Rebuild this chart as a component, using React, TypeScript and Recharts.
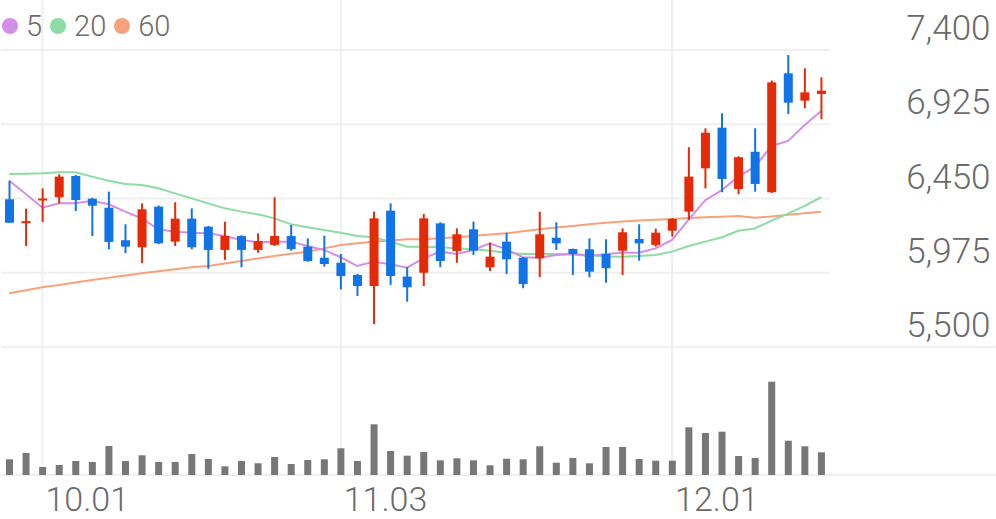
import {
  ComposedChart,
  Bar,
  Line,
  XAxis,
  YAxis,
  CartesianGrid,
} from 'recharts';

// trading days, Sep 29 - Dec 12
const dates = [
  '09.29', '09.30', '10.01', '10.02', '10.10', '10.13', '10.14', '10.15', '10.16', '10.17',
  '10.20', '10.21', '10.22', '10.23', '10.24', '10.27', '10.28', '10.29', '10.30', '10.31',
  '11.03', '11.04', '11.05', '11.06', '11.07', '11.10', '11.11', '11.12', '11.13', '11.14',
  '11.17', '11.18', '11.19', '11.20', '11.21', '11.24', '11.25', '11.26', '11.27', '11.28',
  '12.01', '12.02', '12.03', '12.04', '12.05', '12.08', '12.09', '12.10', '12.11', '12.12',
];

const opens = [
  6445, 6295, 6440, 6458, 6594, 6449, 6391, 6183, 6138, 6398,
  6174, 6321, 6270, 6121, 6210, 6121, 6153, 6210, 6142, 6071,
  6039, 5961, 5890, 6372, 5950, 5975, 6291, 6114, 6253, 6010,
  6174, 6071, 6067, 6199, 6127, 6125, 6095, 6116, 6191, 6153,
  6244, 6366, 6643, 6903, 6511, 6749, 6490, 7251, 7076, 7119,
];
const highs = [
  6564, 6385, 6515, 6605, 6600, 6455, 6494, 6285, 6419, 6405,
  6426, 6387, 6275, 6302, 6215, 6227, 6458, 6281, 6195, 6212,
  6095, 5968, 6366, 6419, 6010, 6351, 6298, 6259, 6302, 6167,
  6231, 6075, 6366, 6298, 6130, 6195, 6189, 6259, 6285, 6257,
  6325, 6778, 6899, 6995, 6720, 6899, 7205, 7368, 7283, 7225,
];
const lows = [
  6295, 6146, 6300, 6419, 6370, 6210, 6125, 6100, 6036, 6158,
  6146, 6125, 6000, 6057, 6010, 6103, 6146, 6116, 6045, 6014,
  5869, 5826, 5647, 5897, 5790, 5890, 6010, 6039, 6089, 5986,
  5967, 5876, 5946, 6121, 5961, 5946, 5911, 5961, 6052, 6142,
  6206, 6313, 6515, 6490, 6477, 6494, 6485, 6991, 7027, 6957,
];
const closes = [
  6295, 6305, 6450, 6590, 6440, 6404, 6172, 6142, 6381, 6163,
  6321, 6138, 6121, 6210, 6121, 6178, 6210, 6127, 6050, 6031,
  5954, 5890, 6323, 5954, 5882, 6323, 6050, 6221, 6116, 6078,
  6061, 5903, 6221, 6163, 6095, 5982, 6004, 6234, 6163, 6231,
  6319, 6590, 6871, 6575, 6714, 6543, 7193, 7063, 7129, 7140,
];
const volumes = [
  157000, 220000, 80000, 100000, 140000, 130000, 290000, 140000, 197000, 130000,
  130000, 210000, 160000, 87000, 140000, 117000, 180000, 110000, 150000, 157000,
  267000, 140000, 507000, 240000, 193000, 230000, 147000, 167000, 147000, 97000,
  163000, 157000, 287000, 123000, 170000, 117000, 280000, 280000, 160000, 143000,
  143000, 477000, 420000, 433000, 190000, 170000, 933000, 343000, 287000, 227000,
];
const ma5 = [
  6564, 6479, 6391, 6419, 6419, 6436, 6413, 6366, 6323, 6253,
  6238, 6231, 6227, 6210, 6185, 6170, 6174, 6174, 6146, 6121,
  6074, 6018, 6046, 6029, 6007, 6067, 6110, 6095, 6121, 6163,
  6125, 6074, 6071, 6089, 6093, 6082, 6095, 6103, 6103, 6131,
  6185, 6315, 6439, 6504, 6590, 6654, 6786, 6818, 6920, 7010,
];
const ma20 = [
  6607, 6609, 6611, 6618, 6618, 6590, 6564, 6543, 6536, 6515,
  6483, 6451, 6419, 6387, 6366, 6349, 6323, 6285, 6266, 6249,
  6231, 6210, 6202, 6174, 6142, 6142, 6138, 6131, 6125, 6116,
  6103, 6095, 6095, 6095, 6095, 6089, 6078, 6078, 6082, 6089,
  6110, 6146, 6174, 6202, 6244, 6258, 6309, 6353, 6403, 6458,
];
const ma60 = [
  5844, 5863, 5882, 5897, 5913, 5929, 5943, 5958, 5972, 5984,
  5997, 6010, 6018, 6034, 6050, 6066, 6082, 6096, 6110, 6131,
  6152, 6163, 6174, 6181, 6189, 6189, 6195, 6202, 6210, 6219,
  6227, 6240, 6253, 6264, 6274, 6285, 6295, 6303, 6309, 6314,
  6319, 6325, 6330, 6334, 6338, 6327, 6335, 6346, 6356, 6366,
];

const priceLabels = [5500, 5975, 6450, 6925, 7400];
const dateTicks = ['10.01', '11.03', '12.01'];

const PRICE_MIN = 4681;
const PRICE_MAX = 7720;
const VOL_MAX = 4750000;

const RED = '#e42a06';
const BLUE = '#1174e6';
const C5 = '#d58ee8';
const C20 = '#8cdca3';
const C60 = '#f7a27c';
const TEXT = '#6b6b6b';
const GRID = '#efefef';
const FONT = 'Roboto, sans-serif';

const data = dates.map((date, i) => ({
  date,
  open: opens[i],
  high: highs[i],
  low: lows[i],
  close: closes[i],
  volume: volumes[i],
  ma5: ma5[i],
  ma20: ma20[i],
  ma60: ma60[i],
}));

const Candle = (props: any) => {
  const { x, y, width, height, payload } = props;
  const { open, close, high, low } = payload;
  const top = Math.min(y, y + height);
  const h = Math.abs(height);
  const k = h / (high - low || 1);
  const yOf = (v: number) => top + (high - v) * k;
  const color = close >= open ? RED : BLUE;
  const bodyTop = yOf(Math.max(open, close));
  const bodyH = Math.max(2, yOf(Math.min(open, close)) - bodyTop);
  const cx = x + width / 2;
  return (
    <g>
      <line x1={cx} x2={cx} y1={top} y2={top + h} stroke={color} strokeWidth={2} />
      <rect x={x} y={bodyTop} width={width} height={bodyH} fill={color} />
    </g>
  );
};

const PriceTick = (props: any) => {
  const { x, y, payload } = props;
  const v = payload.value;
  const wide = v === PRICE_MIN || v === 5500;
  return (
    <g>
      {wide && <line x1={x - 4} x2={x + 170} y1={y} y2={y} stroke={GRID} strokeWidth={2} />}
      {priceLabels.includes(v) && (
        <text x={x + 161} y={y - 10} textAnchor="end" fontSize={35} fontWeight={300} fontFamily={FONT} fill={TEXT}>
          {v.toLocaleString('en-US')}
        </text>
      )}
    </g>
  );
};

const DateTick = (props: any) => {
  const { x, y, payload } = props;
  return (
    <text x={x + 3} y={y + 36} fontSize={34} fontWeight={300} fontFamily={FONT} fill={TEXT}>
      {payload.value}
    </text>
  );
};

const legendItems = [
  { name: '5', color: C5 },
  { name: '20', color: C20 },
  { name: '60', color: C60 },
];

export default function App() {
  return (
    <div style={{ position: 'absolute', left: 0, top: 0, width: 996, height: 519, background: '#fff' }}>
      <ComposedChart
        width={996}
        height={519}
        data={data}
        margin={{ top: 0, right: 0, bottom: 0, left: 1 }}
      >
        <CartesianGrid
          xAxisId="price"
          yAxisId="price"
          stroke={GRID}
          strokeWidth={2}
          syncWithTicks
        />
        <XAxis
          xAxisId="price"
          dataKey="date"
          ticks={dateTicks}
          interval={0}
          height={44}
          axisLine={false}
          tickLine={false}
          tickSize={0}
          tickMargin={0}
          tick={<DateTick />}
        />
        <XAxis xAxisId="vol" dataKey="date" hide />
        <YAxis
          yAxisId="price"
          orientation="right"
          width={166.5}
          domain={[PRICE_MIN, PRICE_MAX]}
          ticks={[PRICE_MIN, ...priceLabels]}
          interval={0}
          axisLine={false}
          tickLine={false}
          tickSize={0}
          tickMargin={0}
          tick={<PriceTick />}
        />
        <YAxis yAxisId="vol" domain={[0, VOL_MAX]} hide />
        <Bar
          xAxisId="vol"
          yAxisId="vol"
          dataKey="volume"
          fill="#777777"
          barSize={7}
          isAnimationActive={false}
        />
        <Line xAxisId="price" yAxisId="price" dataKey="ma60" stroke={C60} strokeWidth={2} dot={false} isAnimationActive={false} />
        <Line xAxisId="price" yAxisId="price" dataKey="ma20" stroke={C20} strokeWidth={2} dot={false} isAnimationActive={false} />
        <Line xAxisId="price" yAxisId="price" dataKey="ma5" stroke={C5} strokeWidth={2} dot={false} isAnimationActive={false} />
        <Bar
          xAxisId="price"
          yAxisId="price"
          dataKey={(d: any) => [d.low, d.high]}
          barSize={9}
          shape={<Candle />}
          isAnimationActive={false}
          zIndex={500}
        />
      </ComposedChart>
      <div
        style={{
          position: 'absolute',
          left: 2,
          top: 10,
          height: 32,
          display: 'flex',
          alignItems: 'center',
          fontFamily: FONT,
          fontSize: 29,
          fontWeight: 300,
          color: TEXT,
          lineHeight: 1,
        }}
      >
        {legendItems.map((it) => (
          <div key={it.name} style={{ display: 'flex', alignItems: 'center', marginRight: 8 }}>
            <span style={{ width: 16, height: 16, borderRadius: 8, background: it.color, marginRight: 8 }} />
            <span>{it.name}</span>
          </div>
        ))}
      </div>
    </div>
  );
}
